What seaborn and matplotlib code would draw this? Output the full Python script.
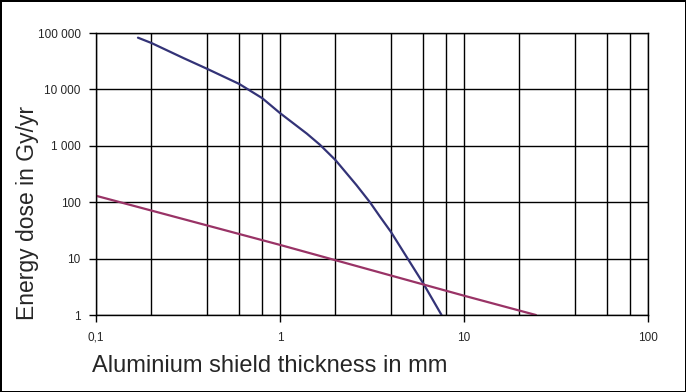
import numpy as np
import pandas as pd
import seaborn as sns
import matplotlib.pyplot as plt
from matplotlib.ticker import FixedLocator, NullFormatter

# Dose values (log-log)
al_thickness = [0.169, 0.2, 0.3, 0.4, 0.6, 0.8, 1.0, 1.4, 1.65, 2.0, 2.6, 3.08, 3.5, 4.0, 5.0, 6.0, 7.55]
dose_curve = [82600, 66500, 35700, 23300, 12500, 7000, 3800, 1640, 1040, 560, 202, 100, 55, 30, 9.4, 3.65, 1.0]

line_thickness = [0.1, 1.0, 10.0, 24.6]
dose_line = [130, 17.5, 2.2, 1.0]

x_major = [0.1, 1, 10, 100]
x_major_labels = ["0,1", "1", "10", "100"]
x_minor = [0.2, 0.4, 0.6, 0.8, 2, 4, 6, 8, 20, 40, 60, 80]
y_major = [1, 10, 100, 1000, 10000, 100000]
y_major_labels = ["1", "10", "100", "1 000", "10 000", "100 000"]

df_curve = pd.DataFrame({"x": al_thickness, "y": dose_curve})
df_line = pd.DataFrame({"x": line_thickness, "y": dose_line})

sns.set_style("white")
plt.rcParams["font.family"] = ["Liberation Sans", "DejaVu Sans"]

fig = plt.figure(figsize=(6.86, 3.92), dpi=100, linewidth=2, edgecolor="black")
ax = fig.add_axes([0.14, 0.1964, 0.8046, 0.7194])

sns.lineplot(data=df_curve, x="x", y="y", color="#333377", linewidth=1.6, ax=ax)
sns.lineplot(data=df_line, x="x", y="y", color="#993366", linewidth=1.6, ax=ax)

ax.set_xscale("log")
ax.set_yscale("log")
ax.set_xlim(0.1, 100)
ax.set_ylim(1, 100000)

ax.xaxis.set_major_locator(FixedLocator(x_major))
ax.set_xticklabels(x_major_labels)
ax.xaxis.set_minor_locator(FixedLocator(x_minor))
ax.xaxis.set_minor_formatter(NullFormatter())
ax.yaxis.set_major_locator(FixedLocator(y_major))
ax.set_yticklabels(y_major_labels)
ax.yaxis.set_minor_locator(FixedLocator([]))

ax.grid(True, which="major", axis="both", color="black", linewidth=1)
ax.grid(True, which="minor", axis="x", color="black", linewidth=1)
ax.tick_params(axis="both", which="major", direction="out", length=5, width=1,
               color="black", labelsize=8.5, bottom=True, left=True)
ax.tick_params(axis="x", which="major", pad=7)
ax.tick_params(axis="y", which="major", pad=6)
ax.tick_params(axis="x", which="minor", length=0)
ax.set_axisbelow(True)

for s in ax.spines.values():
    s.set_color("black")
    s.set_linewidth(1)

ax.set_xlabel("Aluminium shield thickness in mm", fontsize=17)
ax.xaxis.label.set_va("baseline")
ax.xaxis.set_label_coords(0.315, -0.202)

ax.set_ylabel("Energy dose in Gy/yr", fontsize=16.5)
ax.yaxis.label.set_va("center")
ax.yaxis.label.set_ha("center")
ax.yaxis.set_label_coords(-0.125, 0.362)

fig.savefig("out.png", dpi=100, edgecolor=fig.get_edgecolor())
